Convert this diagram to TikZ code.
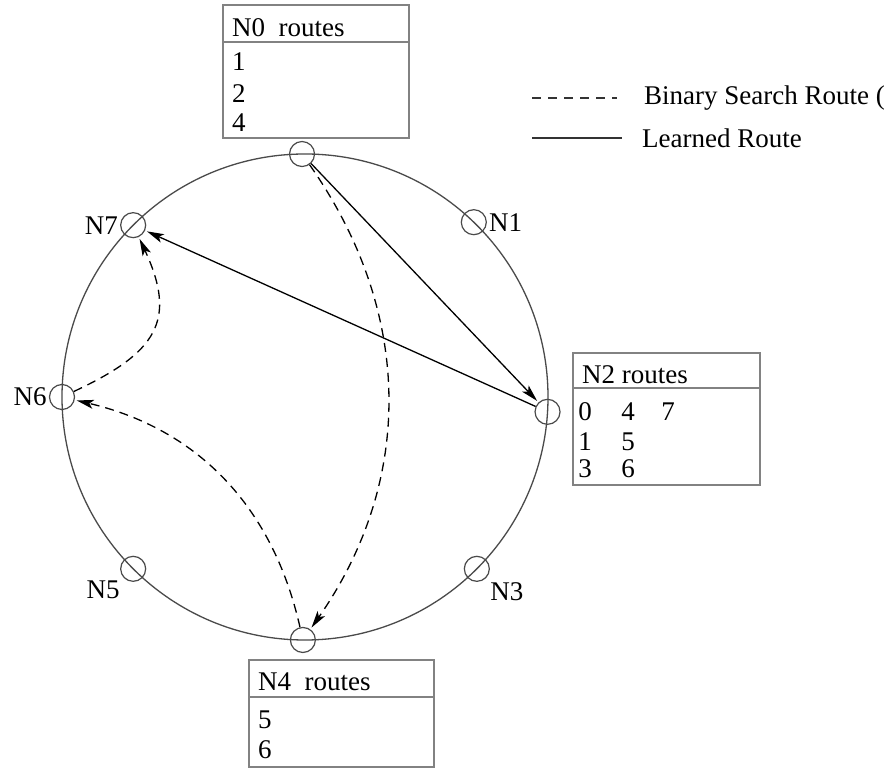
\documentclass[tikz,border=0pt]{standalone}
\usepackage{fontspec}
\setmainfont{Liberation Serif}
\usepackage{tikz}
\usetikzlibrary{arrows.meta,positioning}
\definecolor{ringgray}{HTML}{4A4A4A}
\definecolor{boxgray}{HTML}{828282}
\tikzset{
  ringline/.style={draw=ringgray, line width=1.3pt},
  peer/.style={circle, draw=ringgray, line width=1.2pt, minimum size=25pt, inner sep=0pt},
  learned/.style={draw=black, line width=1.3pt, shorten >=2pt, -{Stealth[length=17pt,width=9pt,inset=4pt]}},
  search/.style={draw=black, line width=1.3pt, dash pattern=on 9pt off 6pt, shorten >=2pt, -{Stealth[length=17pt,width=9pt,inset=4pt]}},
  legdash/.style={draw=black!80, line width=1.3pt, dash pattern=on 9pt off 7pt},
  legline/.style={draw=black!80, line width=1.5pt},
  tbl/.style={draw=boxgray, line width=2pt, inner sep=0pt},
  lab/.style={font=\fontsize{27}{30}\selectfont, inner sep=0pt},
}

\begin{document}
\begin{tikzpicture}[x=1pt,y=1pt]
  \useasboundingbox (0,0) rectangle (894,768);
  \clip (0,0) rectangle (894,768);
  \coordinate (C) at (305,371);
  \def\r{243}
  \draw[ringline] (C) circle (\r);
  \foreach \X/\ang in {0/90.7,1/46,2/-3.5,3/-45,4/-90.5,5/-135,6/180,7/135}
    \node[peer] (N\X) at ([shift={(\ang:\r)}]C) {};
  % peer labels
  \node[lab, left=2pt of N7] (lN7) {N7};
  \node[lab, right=2pt of N1] (lN1) {N1};
  \node[lab, left=2pt of N6] (lN6) {N6};
  \node[lab, below left=3pt and 4pt of N5] (lN5) {N5};
  \node[lab, below right=4pt and 4pt of N3] (lN3) {N3};
  % routes
  \draw[learned] (N0) -- (N2);
  \draw[learned] (N2) -- (N7);
  \draw[search] (N0) to[bend left=35] (N4);
  \draw[search] (N4) to[bend right=32] (N6);
  \draw[search] (N6) to[out=25,in=-65,looseness=1.4] (N7);
  % routing tables
  \node[tbl, minimum width=186pt, minimum height=133pt, anchor=north west] (N0tab) at (222,764) {};
  \draw[tbl] ([yshift=-38pt]N0tab.north west) -- ([yshift=-38pt]N0tab.north east);
  \node[lab, anchor=west] (N0head) at (232,740) {N0\ \ routes};
  \foreach \v/\y in {1/706,2/674,4/645}
    \node[lab, anchor=west] (N0r\v) at (232,\y) {\v};
  \node[tbl, minimum width=187pt, minimum height=132pt, anchor=north west] (N2tab) at (572,416) {};
  \draw[tbl] ([yshift=-36pt]N2tab.north west) -- ([yshift=-36pt]N2tab.north east);
  \node[lab, anchor=west] (N2head) at (582,393) {N2 routes};
  \foreach \v/\x/\y in {0/585/356,4/628/356,7/668/356,1/585/326,5/628/326,3/585/299,6/628/299}
    \node[lab] (N2r\v) at (\x,\y) {\v};
  \node[tbl, minimum width=185pt, minimum height=107pt, anchor=north west] (N4tab) at (248,109) {};
  \draw[tbl] ([yshift=-38pt]N4tab.north west) -- ([yshift=-38pt]N4tab.north east);
  \node[lab, anchor=west] (N4head) at (258,86) {N4\ \ routes};
  \foreach \v/\y in {5/48,6/18}
    \node[lab, anchor=west] (N4r\v) at (258,\y) {\v};
  % legend
  \coordinate (dashL) at (532,670);
  \coordinate (dashR) at (617,670);
  \coordinate (lineL) at (532,630);
  \coordinate (lineR) at (622,630);
  \draw[legdash] (dashL) -- (dashR);
  \draw[legline] (lineL) -- (lineR);
  \node[lab, anchor=west] (legSearch) at (644,670) {Binary Search Route (};
  \node[lab, anchor=west] (legLearned) at (642,630) {Learned Route};
\end{tikzpicture}
\end{document}
